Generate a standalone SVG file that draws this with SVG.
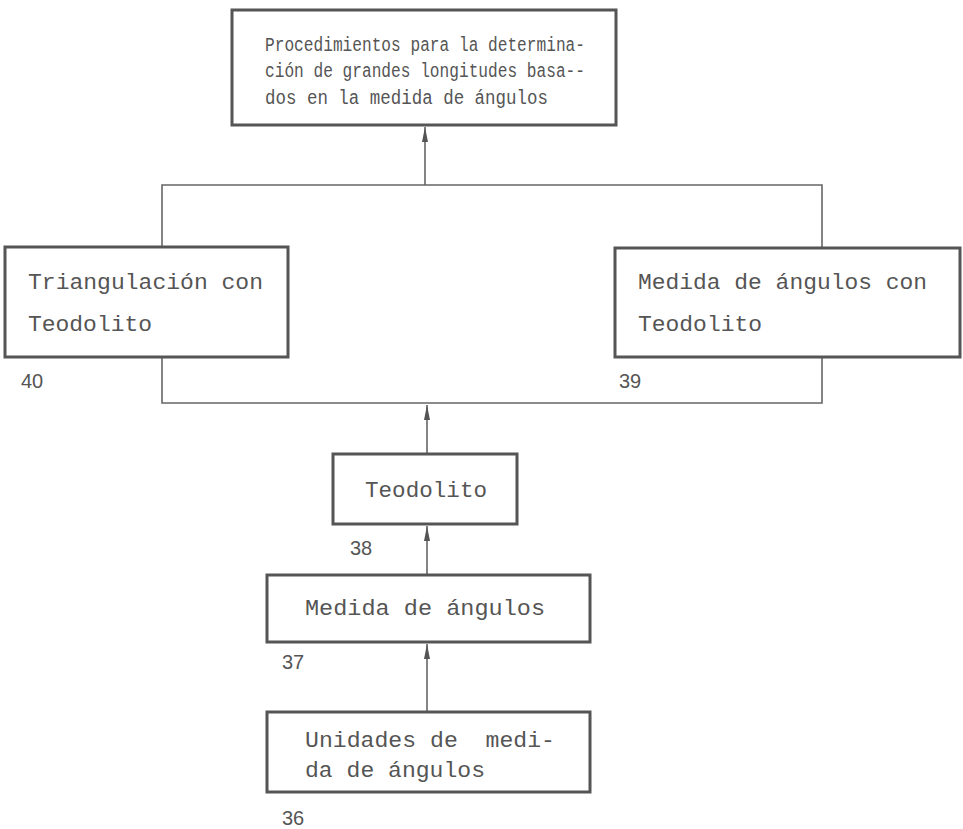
<svg xmlns="http://www.w3.org/2000/svg" width="963" height="829" viewBox="0 0 963 829">
  <style>
    .box { fill: none; stroke: #555; stroke-width: 3; }
    .wire { fill: none; stroke: #666; stroke-width: 1.6; }
    .t { font-family: "Liberation Mono", "DejaVu Sans Mono", monospace; fill: #555; }
    .big { font-size: 22px; }
    .small { font-size: 20px; }
    .num { font-family: "Liberation Sans", "DejaVu Sans", sans-serif; font-size: 20px; fill: #555; }
  </style>
  <defs>
    <marker id="arrow" viewBox="0 0 15 6" refX="15" refY="3" markerWidth="15" markerHeight="6" markerUnits="userSpaceOnUse" orient="auto">
      <path d="M15 3 L0 0 L0 6 Z" fill="#555"/>
    </marker>
  </defs>
  <rect width="963" height="829" fill="#fff"/>

  <g id="connectors">
    <!-- upper bus feeding the top box -->
    <polyline class="wire" points="162,247 162,185 822,185 822,248"/>
    <line class="wire" x1="425" y1="185" x2="425" y2="127" marker-end="url(#arrow)"/>
    <!-- lower bus joining both side boxes -->
    <polyline class="wire" points="162,357 162,403 822,403 822,357"/>
    <line class="wire" x1="427" y1="454" x2="427" y2="405" marker-end="url(#arrow)"/>
    <line class="wire" x1="427" y1="575" x2="427" y2="526" marker-end="url(#arrow)"/>
    <line class="wire" x1="427" y1="712" x2="427" y2="644" marker-end="url(#arrow)"/>
  </g>

  <g id="procedimientos">
    <rect class="box" x="232" y="10" width="384" height="115"/>
    <text class="t small" x="265" y="51" textLength="320" lengthAdjust="spacingAndGlyphs">Procedimientos para la determina-</text>
    <text class="t small" x="265" y="77" textLength="320" lengthAdjust="spacingAndGlyphs">ción de grandes longitudes basa--</text>
    <text class="t small" x="265" y="104" textLength="283" lengthAdjust="spacingAndGlyphs">dos en la medida de ángulos</text>
  </g>

  <g id="triangulacion">
    <rect class="box" x="5" y="247" width="283" height="110"/>
    <text class="t big" x="28" y="289" textLength="235" lengthAdjust="spacingAndGlyphs">Triangulación con</text>
    <text class="t big" x="28" y="331" textLength="124" lengthAdjust="spacingAndGlyphs">Teodolito</text>
    <text class="num" x="21" y="388">40</text>
  </g>

  <g id="medida-con-teodolito">
    <rect class="box" x="615" y="248" width="345" height="109"/>
    <text class="t big" x="638" y="289" textLength="289" lengthAdjust="spacingAndGlyphs">Medida de ángulos con</text>
    <text class="t big" x="638" y="331" textLength="124" lengthAdjust="spacingAndGlyphs">Teodolito</text>
    <text class="num" x="619" y="388">39</text>
  </g>

  <g id="teodolito">
    <rect class="box" x="333" y="454" width="184" height="70"/>
    <text class="t big" x="365" y="497" textLength="122" lengthAdjust="spacingAndGlyphs">Teodolito</text>
    <text class="num" x="350" y="555">38</text>
  </g>

  <g id="medida-angulos">
    <rect class="box" x="267" y="575" width="323" height="67"/>
    <text class="t big" x="305" y="615" textLength="240" lengthAdjust="spacingAndGlyphs">Medida de ángulos</text>
    <text class="num" x="282" y="669">37</text>
  </g>

  <g id="unidades">
    <rect class="box" x="267" y="712" width="323" height="80"/>
    <text class="t big" x="305" y="747" xml:space="preserve" textLength="250" lengthAdjust="spacingAndGlyphs">Unidades de  medi-</text>
    <text class="t big" x="305" y="777" textLength="180" lengthAdjust="spacingAndGlyphs">da de ángulos</text>
    <text class="num" x="282" y="825">36</text>
  </g>
</svg>
